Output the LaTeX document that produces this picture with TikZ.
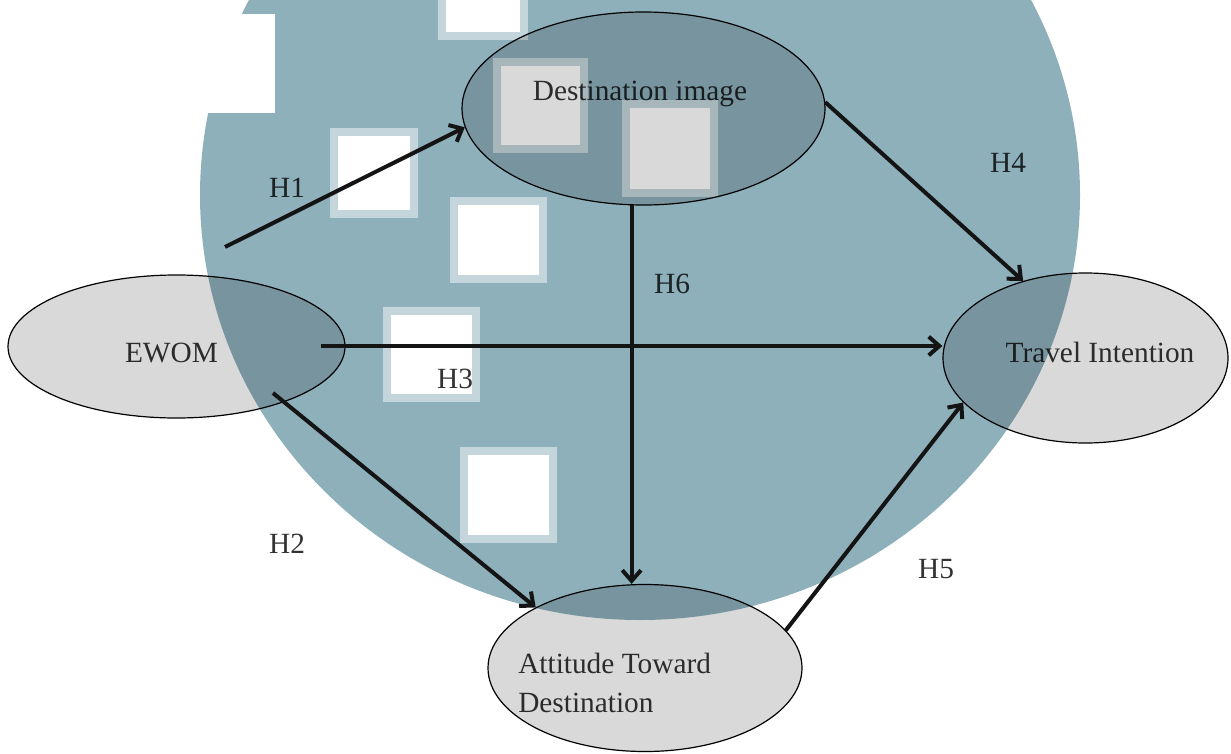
\documentclass[tikz,border=0pt]{standalone}
\usepackage{fontspec}
\setmainfont{Liberation Serif}
\usetikzlibrary{arrows.meta,shapes.geometric,calc}
\definecolor{blobblue}{RGB}{142,176,187}
\definecolor{blobedge}{RGB}{196,214,220}

\begin{document}
\begin{tikzpicture}[x=0.75pt, y=-0.75pt,
  latent/.style={ellipse,draw,line width=0.9pt,fill=black,fill opacity=0.15,draw opacity=1,inner sep=0pt},
  lbl/.style={font=\fontsize{22}{29.25}\selectfont,text=black,text opacity=0.8,inner sep=0pt},
  hyp/.style={-{Straight Barb[length=8pt,width=14pt]},line width=3pt,draw=black!92}]
\useasboundingbox (0,0) rectangle (1231,753);
\clip (0,0) rectangle (1231,753);
% background blob with squares
\fill[blobblue] (640,195) ellipse[x radius=330pt,y radius=318.75pt];
\fill[white] (150,14) rectangle (275,113);
\foreach \xa/\ya/\xb/\yb in {438/-50/528/40, 330/128/418/218, 450/197/547/283, 383/307/480/402,
  460/447/557/543, 493/58/588/153, 622/100/718/197}{
  \fill[blobedge] (\xa,\ya) rectangle (\xb,\yb);
  \fill[white] (\xa+8,\ya+8) rectangle (\xb-8,\yb-8);
}
% constructs
\node[latent,minimum width=252.75pt,minimum height=107.25pt] (ewom) at (176.5,346.5) {};
\node[latent,minimum width=272.25pt,minimum height=144.75pt] (dest) at (643.5,108.5) {};
\node[latent,minimum width=213.75pt,minimum height=127.5pt] (trav) at (1085.5,358) {};
\node[latent,minimum width=235.5pt,minimum height=125.25pt] (att) at (645,668) {};
\node[lbl,anchor=base] (ewom-t) at (171.5,362) {EWOM};
\node[lbl,anchor=base] (dest-t) at (640,100) {Destination image};
\node[lbl,anchor=base] (trav-t) at (1100,362) {Travel Intention};
\node[lbl,anchor=base west,align=left] (att-t) at (518,712) {Attitude Toward\\Destination};
% hypotheses
\coordinate (h1-from) at (225,247);
\coordinate (h2-from) at (273,393);
\coordinate (h3-from) at (321,346);
\draw[hyp] (h1-from) -- (dest.186);
\draw[hyp] (h2-from) -- (att.151);
\draw[hyp] (h3-from) -- (h3-from -| trav.west);
\draw[hyp] (dest.2) -- (trav.129);
\draw[hyp] (att.15) -- (trav.200);
\draw[hyp] (dest.263) -- (dest.263 |- att.north);
\node[lbl,anchor=base] (h1) at (287,197) {H1};
\node[lbl,anchor=base] (h2) at (287,553) {H2};
\node[lbl,anchor=base] (h3) at (455,388) {H3};
\node[lbl,anchor=base] (h4) at (1008,172) {H4};
\node[lbl,anchor=base] (h5) at (936,578) {H5};
\node[lbl,anchor=base] (h6) at (672,293) {H6};
\end{tikzpicture}
\end{document}
